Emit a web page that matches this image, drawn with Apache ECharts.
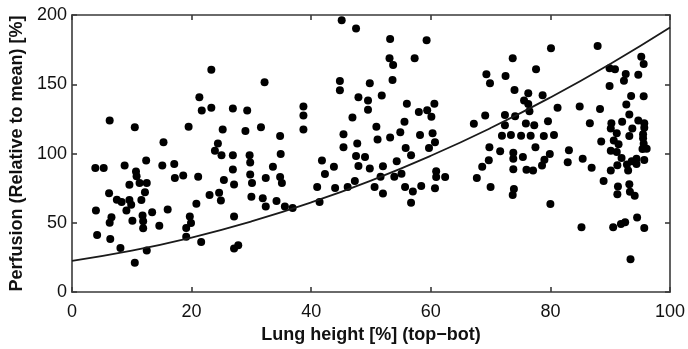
<!DOCTYPE html>
<html>
<head>
<meta charset="utf-8">
<script src="https://cdn.jsdelivr.net/npm/echarts@6/dist/echarts.min.js"></script>
<style>
html,body{margin:0;padding:0;background:#fff;}
#chart{width:688px;height:349px;}
</style>
</head>
<body>
<div id="chart"></div>
<script>
// Scatter points: [lung height %, perfusion %]
const perfusionPoints = [
[23.3,160.4],[21.3,140.7],[21.7,131],[23.3,133],[6.3,123.8],[10.5,118.9],[19.5,119.3],[25.2,117.4],[15.3,108.2],[24.4,107.3],
[23.9,102],[25,98.7],[3.9,89.5],[5.3,89.5],[8.8,91.4],[12.4,94.9],[15.1,91.4],[17.1,92.5],[10.7,87],[10.8,83.7],[17.2,82.3],[18.6,84.2],[21.1,83.3],[25.4,80.9],[9.6,77.4],[11.3,78.8],[12.5,78.8],[6.2,71.4],[12.2,72.1],[23,70],[24.6,71.7],[24.9,66.2],[7.5,66.7],[8.3,65],[9.6,66.4],[9.9,63.1],[11.6,66.4],[20.8,63.8],[4,58.9],[9.1,58.9],[13.4,57.7],[16,59.6],[6.6,54.1],[6.3,50],[10.1,51.5],[11.8,55.3],[11.9,51.2],[11.9,46],[14.6,47.9],[19.7,54.6],[19.9,49.8],[19.1,46.3],[4.2,41.3],[6.4,38.4],[19.1,39.9],[21.6,36.1],[8.1,31.8],[12.5,30.1],[10.5,21.1],
[45.1,196.2],[47.5,190.3],[32.2,151.4],[44.8,152.3],[44.8,145.7],[49.8,150.7],[47.9,140.7],[49.5,138.3],[49.5,131.7],[26.9,132.6],[29.3,131],[38.7,134],[38.7,127.4],[46.9,126],[29,116.3],[31.6,118.9],[34.8,112.7],[38.7,117.4],[50.9,119.3],[45.4,113.9],[51.1,110.1],[45.4,104.5],[47.7,107.3],
[26.9,98.7],[29.7,98.7],[29.8,93.5],[34.9,99.6],[26.9,88.5],[29.8,84.9],[30.1,78.8],[27.1,77.6],[32.4,82.3],[33.6,90.4],[34.8,83],[35.1,78.8],[30,68.8],[31.9,67.8],[32.4,61.7],[34.2,65.7],[35.6,61.7],[36.9,60.7],[27.1,54.6],[27.1,31.5],[27.8,33.9],[41.8,94.9],[42.3,85.2],[41,75.9],[41.4,65],[43.8,90.4],[44,75.2],[47.5,98.2],[49,97.5],[47.9,91.1],[49.8,89.2],[46.1,75.9],[47.3,80.2],[50.6,75.9],
[53.2,182.7],[59.3,181.7],[53.1,168.7],[53.7,163.9],[57.3,168.7],[53.6,153],[51.8,141.9],[56,135.9],[58,130],[59.4,131.2],[60.6,135.9],[60.1,126.5],[55.6,122.9],[53.2,111.5],[54.9,115.3],[58.2,113.4],[60.3,114.6],[55.8,104],[59.7,104],[60.7,108.2],[69.3,157.3],[69.9,150.7],[72.5,155.9],[73.7,168.7],[77.6,160.9],[74,145.9],[76.3,143.6],[75.6,138.3],[76.3,135.7],[76.5,130.5],[69.1,127.4],[67.2,121.5],[72.4,127.9],[74.1,126.9],[72.4,120.5],[75.9,121.7],[71.9,112.9],[73.4,113.4],[75.1,112.9],[76.7,112.9],[69.8,104.5],[77.5,104.5],
[56.7,98.7],[52,90.9],[54.3,94.4],[51.6,83.3],[53.9,83.3],[55.1,85.4],[52,71.2],[55.7,75.9],[57,72.6],[56.7,64.5],[58.4,76.6],[60.7,74.9],[60.9,87.3],[60.9,83],[62.4,83],[71.6,101.6],[73.8,100.6],[69.7,95.2],[73.8,96.3],[75.4,97.5],[68.6,90.4],[67.7,82.3],[73.8,88.7],[76,88.3],[77.1,87.8],[70,75.9],[73.9,74.5],[73.7,70],
[80.1,176],[87.9,177.7],[95.2,169.9],[95.6,164.6],[89.9,161.6],[90.8,160.9],[92.6,157.5],[92.3,152.5],[94.7,156.8],[89.9,148.8],[78.7,142.1],[81.2,133.1],[84.9,134],[88.3,132.2],[93.5,141.6],[95.6,141.4],[92.7,135.4],[93.2,128.1],[86.6,121.9],[90.2,121.9],[92,122.9],[94.7,123.8],[95.7,121.9],[79.6,123.3],[77.3,120.5],[90.1,118.1],[93.7,118.1],[95.7,118.6],[91.1,114.6],[93.2,112.7],[95.5,113.9],[95.5,111],[78.9,112.7],[80.6,113.4],[88.5,108.7],[90.6,109.4],[91.4,106.8],[95.6,107],
[83.1,102.3],[90.1,102],[91.1,101.1],[95.4,103.2],[96.1,103.4],[79.9,99.6],[79,95.6],[78.6,91.3],[82.9,93.7],[85.4,96.3],[86.9,89.7],[91.9,96.8],[93.6,94.4],[94.4,96.3],[95.7,95.4],[91.2,91.6],[92.8,92.1],[94.4,92.5],[90.1,87.8],[93,87.8],[88.9,80.2],[91.3,76.2],[91.2,70.7],[93.2,77.8],[93.3,72.4],[94.1,69.5],[80,63.6],[94.5,53.9],[85.2,46.8],[90.5,46.8],[91.8,49.1],[92.5,50.5],[95.7,46.3],[93.4,23.7]
];

// Fitted curve
const fitX = [0,10,20,30,40,50,60,70,80,90,100];
const fitY = [22.6,29.9,39.4,51.0,64.7,80.5,98.4,118.4,140.5,164.7,191];

const xTitle = 'Lung height [%] (top\u2212bot)';
const yTitle = 'Perfusion (Relative to mean) [%]';

const FONT = '"Liberation Sans", Arial, sans-serif';
const axisLineStyle = {color:'#3a3a3a', width:1.6};

const fitData = fitX.map((x,i)=>[x, fitY[i]]);

const chart = echarts.init(document.getElementById('chart'), null, {renderer:'canvas'});
chart.setOption({
  animation:false,
  backgroundColor:'#fff',
  grid:{left:72, right:16, top:15, bottom:53, containLabel:false},
  xAxis:[{
    type:'value', min:0, max:100, interval:20, position:'bottom',
    axisLine:{show:true, onZero:false, lineStyle:axisLineStyle},
    axisTick:{show:true, inside:true, length:5, lineStyle:axisLineStyle},
    axisLabel:{fontSize:18, color:'#111', margin:11, fontFamily:FONT},
    splitLine:{show:false},
    name:xTitle, nameLocation:'middle', nameGap:30,
    nameTextStyle:{fontSize:18, fontWeight:'bold', color:'#111', fontFamily:FONT}
  },{
    type:'value', min:0, max:100, interval:20, position:'top',
    axisLine:{show:true, onZero:false, lineStyle:axisLineStyle},
    axisTick:{show:true, inside:true, length:5, lineStyle:axisLineStyle},
    axisLabel:{show:false}, splitLine:{show:false}
  }],
  yAxis:[{
    type:'value', min:0, max:200, interval:50, position:'left',
    axisLine:{show:true, onZero:false, lineStyle:axisLineStyle},
    axisTick:{show:true, inside:true, length:5, lineStyle:axisLineStyle},
    axisLabel:{fontSize:18, color:'#111', margin:5, fontFamily:FONT},
    splitLine:{show:false},
    name:yTitle, nameLocation:'middle', nameGap:42, nameRotate:90,
    nameTextStyle:{fontSize:18, fontWeight:'bold', color:'#111', fontFamily:FONT}
  },{
    type:'value', min:0, max:200, interval:50, position:'right',
    axisLine:{show:true, onZero:false, lineStyle:axisLineStyle},
    axisTick:{show:true, inside:true, length:5, lineStyle:axisLineStyle},
    axisLabel:{show:false}, splitLine:{show:false}
  }],
  series:[{
    type:'scatter', xAxisIndex:0, yAxisIndex:0,
    data:perfusionPoints, symbol:'circle', symbolSize:8,
    itemStyle:{color:'#000', opacity:1}
  },{
    type:'line', xAxisIndex:0, yAxisIndex:0,
    data:fitData, smooth:true, showSymbol:false,
    lineStyle:{color:'#1a1a1a', width:1.8}
  }]
});
</script>
</body>
</html>
